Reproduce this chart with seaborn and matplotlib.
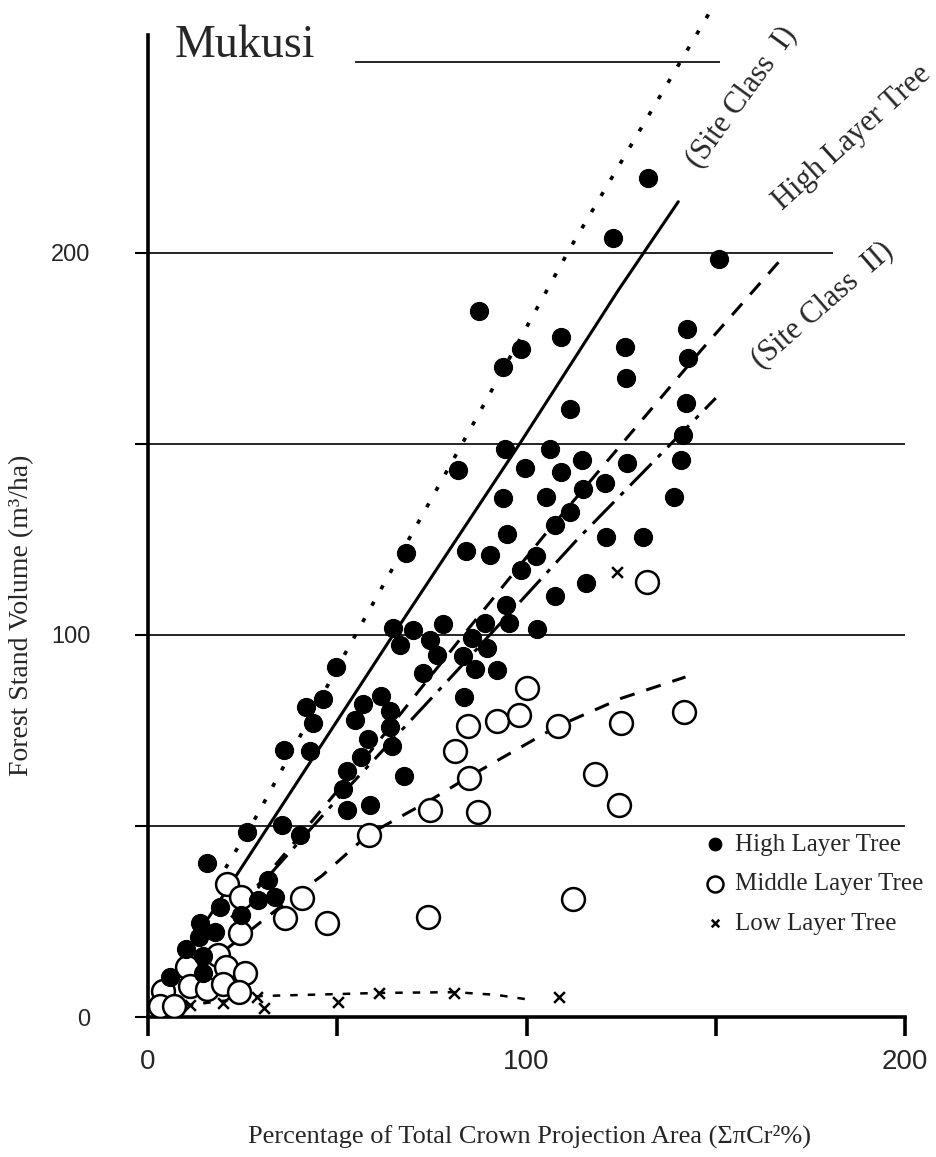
import matplotlib
matplotlib.use("Agg")
import matplotlib.pyplot as plt
import seaborn as sns
import pandas as pd

# ---------------- data ----------------
high_x = [132.2, 122.9, 150.9, 87.5, 98.5, 93.9, 109.1, 126.0, 126.3, 142.5, 142.8, 111.5, 142.1,
          141.3, 140.8, 106.2, 99.6, 114.6, 126.6, 109.1, 114.8, 120.8, 138.9, 105.2, 111.5, 107.5,
          121.0, 130.9,
          94.3, 81.9, 93.9, 94.8, 68.2, 84.0, 90.4, 102.5, 98.5, 107.5, 94.6, 95.5, 89.0, 78.0, 102.7,
          64.6, 70.1, 74.5, 66.6, 85.5, 89.6, 76.3, 83.3, 72.7, 86.4, 92.3, 115.7, 83.5,
          49.8, 46.3, 41.7, 43.5, 61.5, 56.7, 63.9, 54.7, 63.9, 58.2, 64.4, 35.9, 42.8, 56.2, 52.5,
          67.6, 51.6, 52.5, 58.7, 26.1, 35.3, 40.2,
          15.5, 19.0, 13.7, 17.7, 13.6, 10.0, 14.6, 14.6, 5.8, 24.5, 29.1, 33.6, 31.8]
high_y = [219.7, 203.8, 198.4, 184.8, 174.9, 170.2, 178.1, 175.5, 167.2, 180.0, 172.6, 159.1, 160.6,
          152.4, 145.8, 148.7, 143.6, 145.8, 145.1, 142.7, 138.3, 139.8, 136.1, 136.0, 132.2, 128.8,
          125.6, 125.7,
          148.6, 143.1, 135.9, 126.4, 121.5, 122.1, 120.9, 120.6, 117.1, 110.3, 107.9, 103.1, 103.2,
          102.9, 101.5, 101.8, 101.3, 98.7, 97.4, 99.1, 96.5, 94.8, 94.5, 90.0, 91.0, 90.7, 113.5, 83.8,
          91.7, 83.2, 81.1, 76.9, 84.0, 81.9, 80.1, 77.7, 75.8, 72.7, 70.9, 69.9, 69.7, 68.1, 64.4,
          63.1, 59.6, 54.2, 55.5, 48.5, 50.3, 47.6,
          40.2, 28.7, 24.7, 22.3, 20.9, 17.7, 16.0, 11.6, 10.6, 26.7, 30.6, 31.5, 35.9]

mid_x = [20.8, 24.7, 24.3, 18.6, 10.4, 20.5, 25.7, 11.0, 15.6, 19.9, 24.0, 4.0, 3.1, 6.9,
         36.2, 40.6, 47.2, 58.3, 74.1, 74.5, 87.3, 84.9, 81.2, 84.6, 92.1, 98.1, 100.2, 108.4,
         118.1, 112.2, 124.4, 125.0, 141.6, 131.9]
mid_y = [34.8, 31.3, 22.0, 16.3, 13.0, 13.0, 11.4, 8.0, 7.4, 8.7, 6.5, 6.8, 2.8, 2.8,
         25.8, 31.1, 24.5, 47.6, 26.3, 54.2, 53.6, 62.6, 69.7, 76.2, 77.6, 79.1, 86.0, 76.2,
         63.5, 30.8, 55.5, 76.9, 79.9, 113.8]

low_x = [11.1, 19.7, 28.7, 30.6, 50.3, 60.9, 80.8, 108.7, 123.9]
low_y = [3.1, 3.6, 5.3, 2.3, 4.0, 6.2, 6.3, 5.2, 116.5]

# regression / class lines
upper_x = [20.5, 29.1, 51.6, 85.5, 111.5, 149.0]
upper_y = [39.0, 53.3, 94.3, 154.5, 201.2, 264.0]
class1_x = [16.0, 24.3, 63.9, 98.3, 124.3, 140.1]
class1_y = [26.0, 38.5, 98.7, 150.2, 190.3, 213.4]
highmean_x = [24.0, 31.3, 60.0, 84.4, 104.4, 146.2, 168.3]
highmean_y = [29.0, 37.0, 71.0, 101.3, 125.7, 174.6, 199.5]
class2_x = [22.0, 50.0, 80.2, 113.7, 150.0]
class2_y = [26.0, 57.0, 89.1, 125.3, 162.0]
midcurve_x = [21.0, 30.0, 39.0, 46.0, 58.0, 75.0, 85.0, 108.0, 125.0, 142.0]
midcurve_y = [18.0, 25.0, 32.0, 37.0, 47.6, 57.0, 63.0, 76.0, 83.4, 89.0]
lowcurve_x = [10.0, 30.0, 50.0, 61.0, 81.0, 92.0, 101.0]
lowcurve_y = [3.0, 5.5, 6.0, 6.3, 6.5, 5.8, 4.5]

x_ticks = [0, 50, 100, 150, 200]
x_ticklabels = ["0", "", "100", "", "200"]
y_ticks = [0, 50, 100, 150, 200]
y_ticklabels = ["0", "", "100", "", "200"]

title = "Mukusi"
xlabel = "Percentage of Total Crown Projection Area (ΣπCr²%)"
ylabel = "Forest Stand Volume (m³/ha)"
series_names = ["High Layer Tree", "Middle Layer Tree", "Low Layer Tree"]
line_labels = ["(Site Class  I)", "High Layer Tree", "(Site Class  II)"]

# ---------------- drawing ----------------
sns.set_theme(style="white")
plt.rcParams["font.family"] = "Liberation Serif"

fig = plt.figure(figsize=(9.36, 11.57), dpi=100)
ax = fig.add_axes([148 / 936, 140 / 1157, 757 / 936, 1017 / 1157])
ax.set_xlim(0, 200)
ax.set_ylim(0, 266.2)

# horizontal reference lines
ax.hlines([50, 100, 150], 0, 200, color="black", lw=1.2, zorder=1)
ax.hlines([200], -3.4, 181, color="black", lw=1.2, zorder=1, clip_on=False)
ax.hlines([250], 54.7, 151, color="black", lw=1.2, zorder=1)

def curve(xs, ys, dash=None, lw=2.2):
    d = pd.DataFrame({"x": xs, "y": ys})
    n0 = len(ax.lines)
    sns.lineplot(data=d, x="x", y="y", ax=ax, sort=False, estimator=None,
                 color="black", lw=lw, zorder=2)
    ln = ax.lines[n0]
    if dash is not None:
        ln.set_dashes(dash)

curve(upper_x, upper_y, dash=(1.2, 4.0), lw=2.6)
curve(class1_x, class1_y)
curve(highmean_x, highmean_y, dash=(5, 4))
curve(class2_x, class2_y, dash=(10, 3, 1.5, 3))
curve(midcurve_x, midcurve_y, dash=(5, 4))
curve(lowcurve_x, lowcurve_y, dash=(3, 4), lw=1.8)

hd = pd.DataFrame({"x": high_x, "y": high_y})
md = pd.DataFrame({"x": mid_x, "y": mid_y})
ld = pd.DataFrame({"x": low_x, "y": low_y})
sns.scatterplot(data=hd, x="x", y="y", ax=ax, s=170, color="black", edgecolor="black",
                linewidth=0.8, zorder=4, label=series_names[0])
sns.scatterplot(data=md, x="x", y="y", ax=ax, s=270, facecolor="white", edgecolor="black",
                linewidth=1.8, zorder=3, label=series_names[1])
sns.scatterplot(data=ld, x="x", y="y", ax=ax, s=60, marker="x", color="black",
                linewidth=1.8, zorder=4, label=series_names[2])

# spines & ticks
for s in ["top", "right"]:
    ax.spines[s].set_visible(False)
ax.spines["left"].set_linewidth(2.6)
ax.spines["left"].set_color("black")
ax.spines["left"].set_bounds(0, 257)
ax.spines["bottom"].set_linewidth(2.6)
ax.spines["bottom"].set_color("black")
ax.spines["bottom"].set_bounds(0, 200)

ax.set_xticks(x_ticks)
ax.set_xticklabels(x_ticklabels, family="Liberation Sans", fontsize=20)
ax.set_yticks(y_ticks)
ax.set_yticklabels(y_ticklabels, family="Liberation Sans", fontsize=17)
ax.tick_params(axis="x", direction="out", length=14, width=2.6, pad=9, color="black",
               bottom=True)
ax.tick_params(axis="y", direction="out", length=9.5, width=1.5, pad=32, color="black",
               left=True)

ax.set_xlabel(xlabel, fontsize=19)
ax.xaxis.set_label_coords(0.504, -0.106)
ax.set_ylabel(ylabel, fontsize=20)
ax.yaxis.set_label_coords(-0.150, 0.395)

ax.text(7.1, 254.2, title, fontsize=33, ha="left", va="center")

ax.text(156.9, 240.8, line_labels[0], rotation=54, fontsize=22, ha="center", va="center",
        rotation_mode="anchor", clip_on=False)
ax.text(186.0, 230.0, line_labels[1], rotation=42, fontsize=22, ha="center", va="center",
        rotation_mode="anchor", clip_on=False)
ax.text(178.1, 186.4, line_labels[2], rotation=41, fontsize=22, ha="center", va="center",
        rotation_mode="anchor", clip_on=False)

ax.legend(loc="upper left", bbox_to_anchor=(0.693, 0.2026), frameon=False,
          prop={"family": "Liberation Serif", "size": 18},
          handletextpad=0.0, handlelength=1.6, labelspacing=0.68, markerscale=0.7)

fig.savefig("out.png", dpi=100)
